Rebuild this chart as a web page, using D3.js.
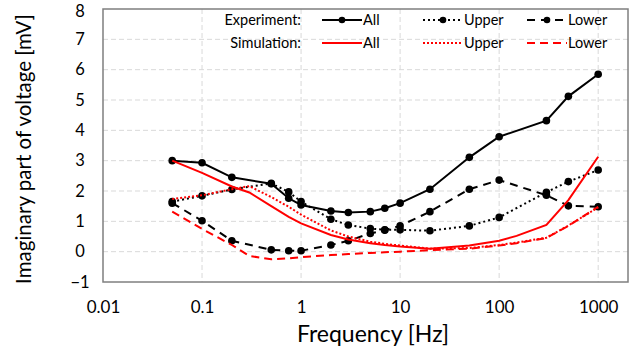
<!DOCTYPE html>
<html>
<head>
<meta charset="utf-8">
<script src="https://cdn.jsdelivr.net/npm/d3@7"></script>
<style>
  body { margin: 0; background: #fff; }
  text { font-family: Lato, "Open Sans", sans-serif; fill: #000; }
</style>
</head>
<body>
<script>
// frequencies (Hz)
const expFreq = [0.05, 0.1, 0.2, 0.5, 0.75, 1, 2, 3, 5, 7, 10, 20, 50, 100, 300, 500, 1000];
const simFreq = [0.05, 0.1, 0.2, 0.3, 0.5, 0.75, 1, 2, 3, 5, 7, 10, 20, 50, 100, 150, 300, 500, 1000];

// experiment values [mV]
const expAll   = [3.0, 2.93, 2.45, 2.24, 1.76, 1.54, 1.34, 1.29, 1.32, 1.43, 1.6, 2.06, 3.11, 3.79, 4.32, 5.12, 5.85];
const expUpper = [1.65, 1.84, 2.05, 2.25, 1.97, 1.65, 1.07, 0.88, 0.76, 0.72, 0.72, 0.69, 0.85, 1.13, 1.96, 2.31, 2.69];
const expLower = [1.6, 1.02, 0.36, 0.06, 0.03, 0.03, 0.22, 0.36, 0.6, 0.71, 0.85, 1.32, 2.06, 2.36, 1.86, 1.51, 1.48];

// simulation values [mV]
const simAll   = [3.0, 2.6, 2.15, 1.95, 1.5, 1.15, 0.93, 0.55, 0.4, 0.28, 0.22, 0.17, 0.1, 0.2, 0.36, 0.52, 0.88, 1.7, 3.13];
const simUpper = [1.74, 1.86, 2.06, 2.16, 1.8, 1.48, 1.22, 0.7, 0.5, 0.33, 0.26, 0.2, 0.1, 0.12, 0.22, 0.3, 0.46, 0.86, 1.46];
const simLower = [1.32, 0.75, 0.22, -0.14, -0.25, -0.22, -0.18, -0.11, -0.08, -0.04, -0.02, 0.0, 0.05, 0.1, 0.2, 0.28, 0.45, 0.85, 1.48];

const xTicks = [0.01, 0.1, 1, 10, 100, 1000];
const yTicks = [-1, 0, 1, 2, 3, 4, 5, 6, 7, 8];

const W = 644, H = 352;
const m = {left: 103, right: 16, top: 9, bottom: 70};

const svg = d3.select("body").append("svg")
  .attr("width", W)
  .attr("height", H);

const x = d3.scaleLog().domain([0.01, 2000]).range([m.left, W - m.right]);
const y = d3.scaleLinear().domain([-1, 8]).range([H - m.bottom, m.top]);

// grid
svg.append("g").selectAll("line.h")
  .data(yTicks.slice(1, -1))
  .enter().append("line")
  .attr("x1", m.left).attr("x2", W - m.right)
  .attr("y1", d => y(d)).attr("y2", d => y(d))
  .attr("stroke", "#d9d9d9").attr("stroke-width", 1)
  .attr("stroke-dasharray", "5,3");

svg.append("g").selectAll("line.v")
  .data(xTicks.slice(1))
  .enter().append("line")
  .attr("x1", d => x(d)).attr("x2", d => x(d))
  .attr("y1", m.top).attr("y2", H - m.bottom)
  .attr("stroke", "#d9d9d9").attr("stroke-width", 1)
  .attr("stroke-dasharray", "5,3");

// frame
svg.append("rect")
  .attr("x", m.left).attr("y", m.top)
  .attr("width", W - m.left - m.right)
  .attr("height", H - m.top - m.bottom)
  .attr("fill", "none")
  .attr("stroke", "#7f7f7f").attr("stroke-width", 1.5);

// axes (labels only)
const xAxis = d3.axisBottom(x).tickValues(xTicks).tickFormat(d3.format("~g")).tickSize(0).tickPadding(19);
svg.append("g")
  .attr("transform", `translate(0,${H - m.bottom})`)
  .call(xAxis)
  .call(g => g.select(".domain").remove())
  .selectAll("text")
  .style("font-family", "Lato, sans-serif")
  .style("font-size", "17px");

const yAxis = d3.axisLeft(y).tickValues(yTicks).tickFormat(d3.format("d")).tickSize(0).tickPadding(19);
svg.append("g")
  .attr("transform", `translate(${m.left},0)`)
  .call(yAxis)
  .call(g => g.select(".domain").remove())
  .selectAll("text")
  .style("font-family", "Lato, sans-serif")
  .style("font-size", "16.5px")
  .attr("text-anchor", "middle")
  .attr("dx", "-4")
  .attr("dy", d => d === 8 ? "0.45em" : "0.32em");

svg.append("text")
  .attr("x", 373).attr("y", 342)
  .attr("text-anchor", "middle")
  .style("font-size", "23px")
  .text("Frequency [Hz]");

svg.append("text")
  .attr("transform", "translate(31,149) rotate(-90)")
  .attr("text-anchor", "middle")
  .style("font-size", "20.5px")
  .text("Imaginary part of voltage [mV]");

const line = d3.line().x(d => x(d[0])).y(d => y(d[1]));

const series = [
  {name: "All",   freq: expFreq, vals: expAll,   color: "#000", dash: null,   marker: true},
  {name: "Upper", freq: expFreq, vals: expUpper, color: "#000", dash: "2,3",  marker: true},
  {name: "Lower", freq: expFreq, vals: expLower, color: "#000", dash: "8,6",  marker: true},
  {name: "All",   freq: simFreq, vals: simAll,   color: "#ff0000", dash: null,  marker: false},
  {name: "Upper", freq: simFreq, vals: simUpper, color: "#ff0000", dash: "2,2", marker: false},
  {name: "Lower", freq: simFreq, vals: simLower, color: "#ff0000", dash: "8,5", marker: false}
];

series.forEach(s => {
  const pts = s.freq.map((f, i) => [f, s.vals[i]]);
  svg.append("path")
    .datum(pts)
    .attr("d", line)
    .attr("fill", "none")
    .attr("stroke", s.color)
    .attr("stroke-width", 2)
    .attr("stroke-dasharray", s.dash);
  if (s.marker) {
    svg.append("g").selectAll("circle")
      .data(pts)
      .enter().append("circle")
      .attr("cx", d => x(d[0]))
      .attr("cy", d => y(d[1]))
      .attr("r", 3.8)
      .attr("fill", s.color);
  }
});

// legend
const legRows = [{label: "Experiment:", y: 20}, {label: "Simulation:", y: 43}];
svg.selectAll("text.row")
  .data(legRows)
  .enter().append("text")
  .attr("x", 301).attr("y", d => d.y)
  .attr("dy", "0.35em")
  .attr("text-anchor", "end")
  .style("font-size", "14.5px")
  .text(d => d.label);

const legCols = [322, 423, 527];
series.forEach((s, i) => {
  const x0 = legCols[i % 3], yy = legRows[Math.floor(i / 3)].y;
  svg.append("line")
    .attr("x1", x0).attr("x2", x0 + 40)
    .attr("y1", yy).attr("y2", yy)
    .attr("stroke", s.color).attr("stroke-width", 2)
    .attr("stroke-dasharray", s.dash);
  if (s.marker) {
    svg.append("circle").attr("cx", x0 + 20).attr("cy", yy).attr("r", 3.3).attr("fill", s.color);
  }
  svg.append("text")
    .attr("x", x0 + 41).attr("y", yy)
    .attr("dy", "0.35em")
    .style("font-size", "14.5px")
    .text(s.name);
});
</script>
</body>
</html>
